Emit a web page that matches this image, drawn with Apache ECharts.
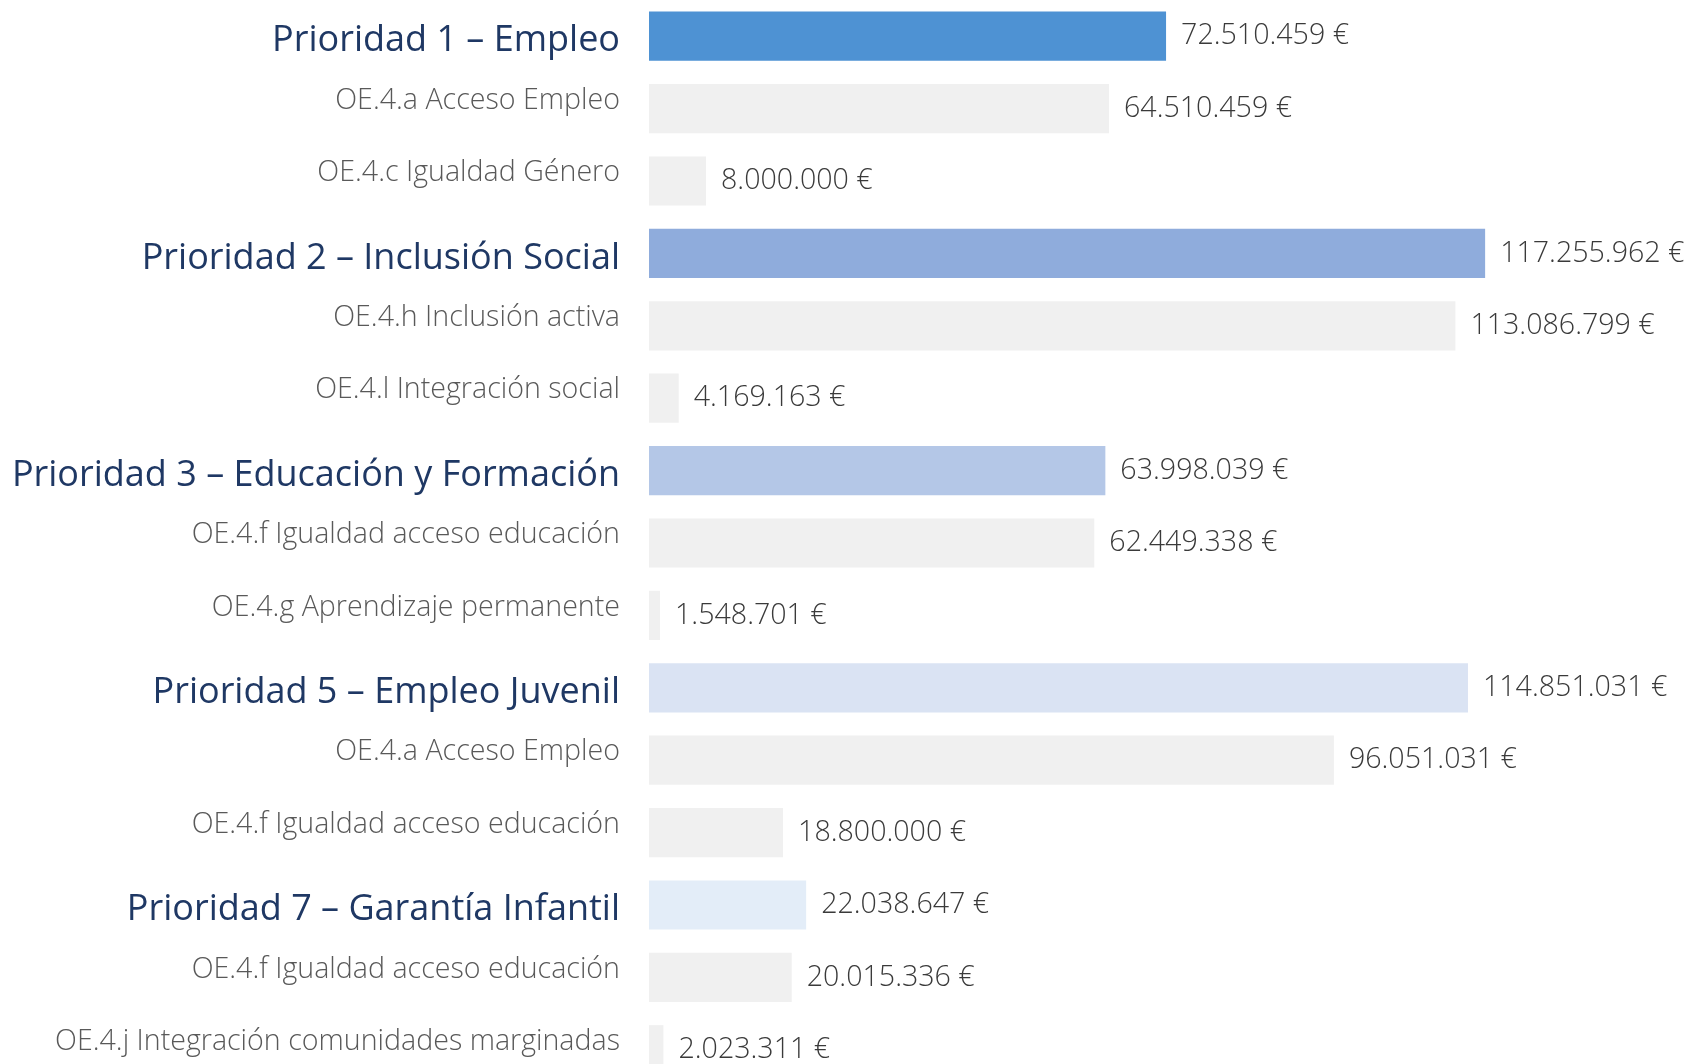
<!DOCTYPE html>
<html>
<head>
<meta charset="utf-8">
<script src="https://cdn.jsdelivr.net/npm/echarts@6/dist/echarts.min.js"></script>
<style>
html,body{margin:0;padding:0;background:#fff;}
#chart{width:1690px;height:1064px;}
</style>
</head>
<body>
<div id="chart"></div>
<script>
// Categories (top to bottom)
var categories = [
  'Prioridad 1 – Empleo',
  'OE.4.a Acceso Empleo',
  'OE.4.c Igualdad Género',
  'Prioridad 2 – Inclusión Social',
  'OE.4.h Inclusión activa',
  'OE.4.l Integración social',
  'Prioridad 3 – Educación y Formación',
  'OE.4.f Igualdad acceso educación',
  'OE.4.g Aprendizaje permanente',
  'Prioridad 5 – Empleo Juvenil',
  'OE.4.a Acceso Empleo',
  'OE.4.f Igualdad acceso educación',
  'Prioridad 7 – Garantía Infantil',
  'OE.4.f Igualdad acceso educación',
  'OE.4.j Integración comunidades marginadas'
];
// Amounts in euros
var amounts = [
  72510459, 64510459, 8000000,
  117255962, 113086799, 4169163,
  63998039, 62449338, 1548701,
  114851031, 96051031, 18800000,
  22038647, 20015336, 2023311
];

var priorityColors = ['#4E92D3', '#8FACDC', '#B4C7E7', '#DAE3F3', '#E3EDF8'];
var subColor = '#F0F0F0';

function isPriority(name) { return name.indexOf('Prioridad') === 0; }
function priorityIndex(idx) {
  var k = -1;
  for (var i = 0; i <= idx; i++) if (isPriority(categories[i])) k++;
  return k;
}
function fmtEuro(v) {
  return String(v).replace(/\B(?=(\d{3})+(?!\d))/g, '.') + ' €';
}

var chart = echarts.init(document.getElementById('chart'));
var FONT = '"Open Sans", "Noto Sans", sans-serif';
chart.setOption({
  animation: false,
  backgroundColor: '#ffffff',
  grid: {
    left: 649, top: 0, width: 927, height: 1086,
    containLabel: false, outerBoundsMode: 'none'
  },
  xAxis: {
    type: 'value', min: 0, max: 130000000,
    show: false
  },
  yAxis: {
    type: 'category',
    data: categories,
    inverse: true,
    axisLine: { show: false },
    axisTick: { show: false },
    splitLine: { show: false },
    axisLabel: {
      margin: 29,
      formatter: function (val) {
        return isPriority(val) ? '{p|' + val + '}' : '{s|' + val + '}';
      },
      rich: {
        p: { fontFamily: FONT, fontSize: 36, color: '#1F3864', padding: [10, 0, 0, 0] },
        s: { fontFamily: FONT, fontSize: 28.6, fontWeight: 300, color: '#595959', padding: [0, 0, 16, 0] }
      }
    }
  },
  series: [{
    type: 'bar',
    data: amounts,
    barCategoryGap: '32%',
    itemStyle: {
      color: function (p) {
        return isPriority(categories[p.dataIndex]) ? priorityColors[priorityIndex(p.dataIndex)] : subColor;
      }
    },
    label: {
      show: true,
      position: 'right',
      distance: 15,
      padding: [4, 0, 0, 0],
      fontFamily: FONT,
      fontSize: 28.6,
      fontWeight: 300,
      color: '#3A3A3A',
      formatter: function (p) { return fmtEuro(p.value); }
    }
  }]
});
</script>
</body>
</html>
